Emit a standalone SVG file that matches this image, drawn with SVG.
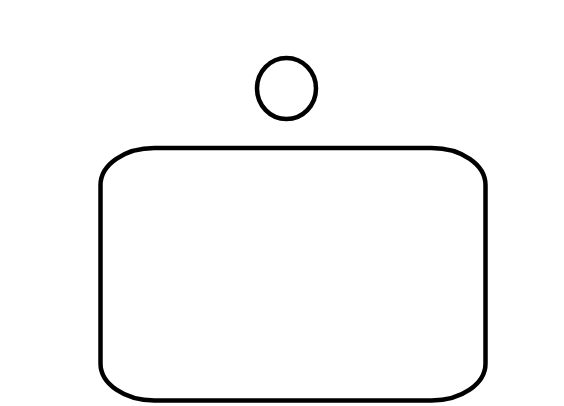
<svg xmlns="http://www.w3.org/2000/svg" width="564" height="406" viewBox="0 0 564 406">
<style>.s{fill:none;stroke:#000;stroke-width:4.5}</style>
<rect width="564" height="406" fill="#fff"/>
<g id="node-top"><ellipse class="s" cx="286.5" cy="88.5" rx="29.5" ry="30.5"/></g>
<g id="node-box"><rect class="s" x="100.5" y="148" width="385" height="252.5" rx="54" ry="37"/></g>
<g id="connectors"></g>
</svg>
